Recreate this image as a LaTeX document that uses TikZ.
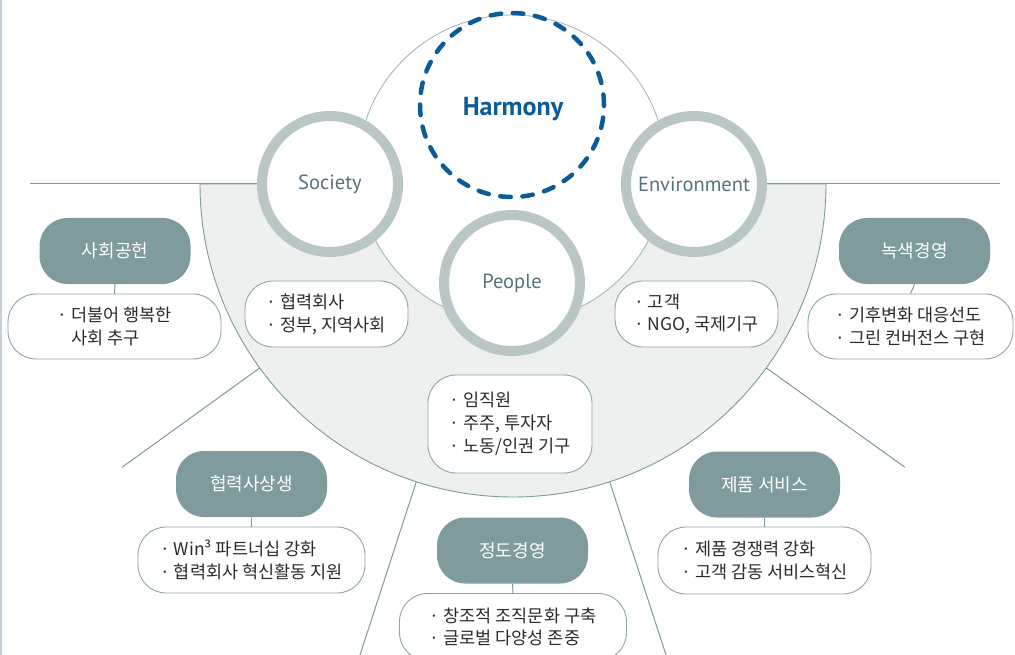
\documentclass[tikz,border=0pt]{standalone}
\usepackage{fontspec}
\newfontfamily\kr{Noto Sans CJK KR}
\newfontfamily\en{PT Sans}
\definecolor{pillc}{HTML}{7F9B9D}
\definecolor{ringc}{HTML}{B9C6C6}
\definecolor{semic}{HTML}{EEF0EF}
\definecolor{linec}{HTML}{7E9A9E}
\definecolor{boxline}{HTML}{8CA5A8}
\definecolor{harmc}{HTML}{0B5C96}
\definecolor{enc}{HTML}{587280}
\definecolor{bodyc}{HTML}{2B2B2B}
\definecolor{edgec}{HTML}{C3D2DA}
\definecolor{innerc}{HTML}{9DB1B6}
\begin{document}
\begin{tikzpicture}[x=1pt,y=-1pt,
  conn/.style={draw=linec,line width=1pt},
  pill/.style={rectangle,rounded corners=28pt,fill=pillc,text=white,minimum width=151pt,minimum height=66pt,inner sep=0pt,font=\kr\fontsize{18}{22}\selectfont},
  wbox/.style={rectangle,rounded corners=28pt,draw=boxline,fill=white,line width=0.9pt,align=left,inner sep=0pt,text=bodyc,font=\kr\fontsize{17.5}{22.8}\selectfont},
  ring/.style={circle,draw=ringc,line width=10pt,fill=white,minimum size=136pt,inner sep=0pt,text=enc,font=\en\fontsize{20.5}{24}\selectfont},
]
\useasboundingbox (0,0) rectangle (1015,655);
\draw[draw=edgec,line width=1.5pt] (1,0) -- (1,655);
% grey semicircle
\filldraw[fill=semic,draw=linec,line width=0.9pt] (200,184) arc[start angle=180,end angle=360,radius=313pt] -- cycle;
% radial lines
\coordinate (l1a) at (259.8,367.9); \coordinate (l1b) at (122,467.3);
\coordinate (l2a) at (416.3,481.7); \coordinate (l2b) at (360,655);
\coordinate (l3a) at (609.7,481.7); \coordinate (l3b) at (666,655);
\coordinate (l4a) at (766.2,367.9); \coordinate (l4b) at (905,467.3);
\coordinate (hl) at (30,184); \coordinate (hr) at (1000,184);
\draw[conn] (l1a) -- (l1b);
\draw[conn] (l2a) -- (l2b);
\draw[conn] (l3a) -- (l3b);
\draw[conn] (l4a) -- (l4b);
\draw[conn] (hl) -- (hr);
% inner circle
\node[circle,draw=innerc,line width=0.8pt,fill=white,minimum size=308pt,inner sep=0pt] (inner) at (512,169) {};
% Harmony
\node[circle,draw=harmc,line width=4.5pt,dash pattern=on 10.5pt off 11.7pt,line cap=round,minimum size=184pt,inner sep=0pt] (harm) at (512,105) {};
\node[text=harmc,font=\en\bfseries\fontsize{26}{28}\selectfont,inner sep=0pt] (harmt) at (513,109) {Harmony};
% rings
\node[ring] (soc) at (330,184) {Society};
\node[ring] (env) at (694,184) {Environment};
\node[ring] (peo) at (512,283) {People};
% stakeholder boxes
\node[wbox,minimum width=163pt,minimum height=66pt] (socb) at (326.5,314) {· 협력회사\\· 정부, 지역사회};
\node[wbox,minimum width=163pt,minimum height=66pt] (envb) at (696.5,314) {· 고객\\· NGO, 국제기구};
\node[wbox,minimum width=164pt,minimum height=98pt] (peob) at (510,424) {· 임직원\\· 주주, 투자자\\· 노동/인권 기구};
% category pills and boxes
\node[pill] (p1) at (115,251) {사회공헌};
\node[wbox,minimum width=213pt,minimum height=65pt] (b1) at (114.5,326.5) {· 더불어 행복한\\\hphantom{· }사회 추구};
\draw[conn] (p1.south) -- (b1.north);
\node[pill] (p2) at (914.5,251) {녹색경영};
\node[wbox,minimum width=205pt,minimum height=65pt] (b2) at (910.5,326.5) {· 기후변화 대응선도\\· 그린 컨버전스 구현};
\draw[conn] (p2.south) -- (b2.north);
\node[pill] (p3) at (251.5,484) {협력사상생};
\node[wbox,minimum width=227pt,minimum height=66pt] (b3) at (251.5,560) {· Win³ 파트너십 강화\\· 협력회사 혁신활동 지원};
\draw[conn] (p3.south) -- (b3.north);
\node[pill] (p4) at (512.5,550.5) {정도경영};
\node[wbox,minimum width=227pt,minimum height=67pt] (b4) at (513,627) {· 창조적 조직문화 구축\\· 글로벌 다양성 존중};
\draw[conn] (p4.south) -- (b4.north);
\node[pill] (p5) at (764.5,484.5) {제품 서비스};
\node[wbox,minimum width=213pt,minimum height=67pt] (b5) at (764.5,560.5) {· 제품 경쟁력 강화\\· 고객 감동 서비스혁신};
\draw[conn] (p5.south) -- (b5.north);
\end{tikzpicture}
\end{document}
